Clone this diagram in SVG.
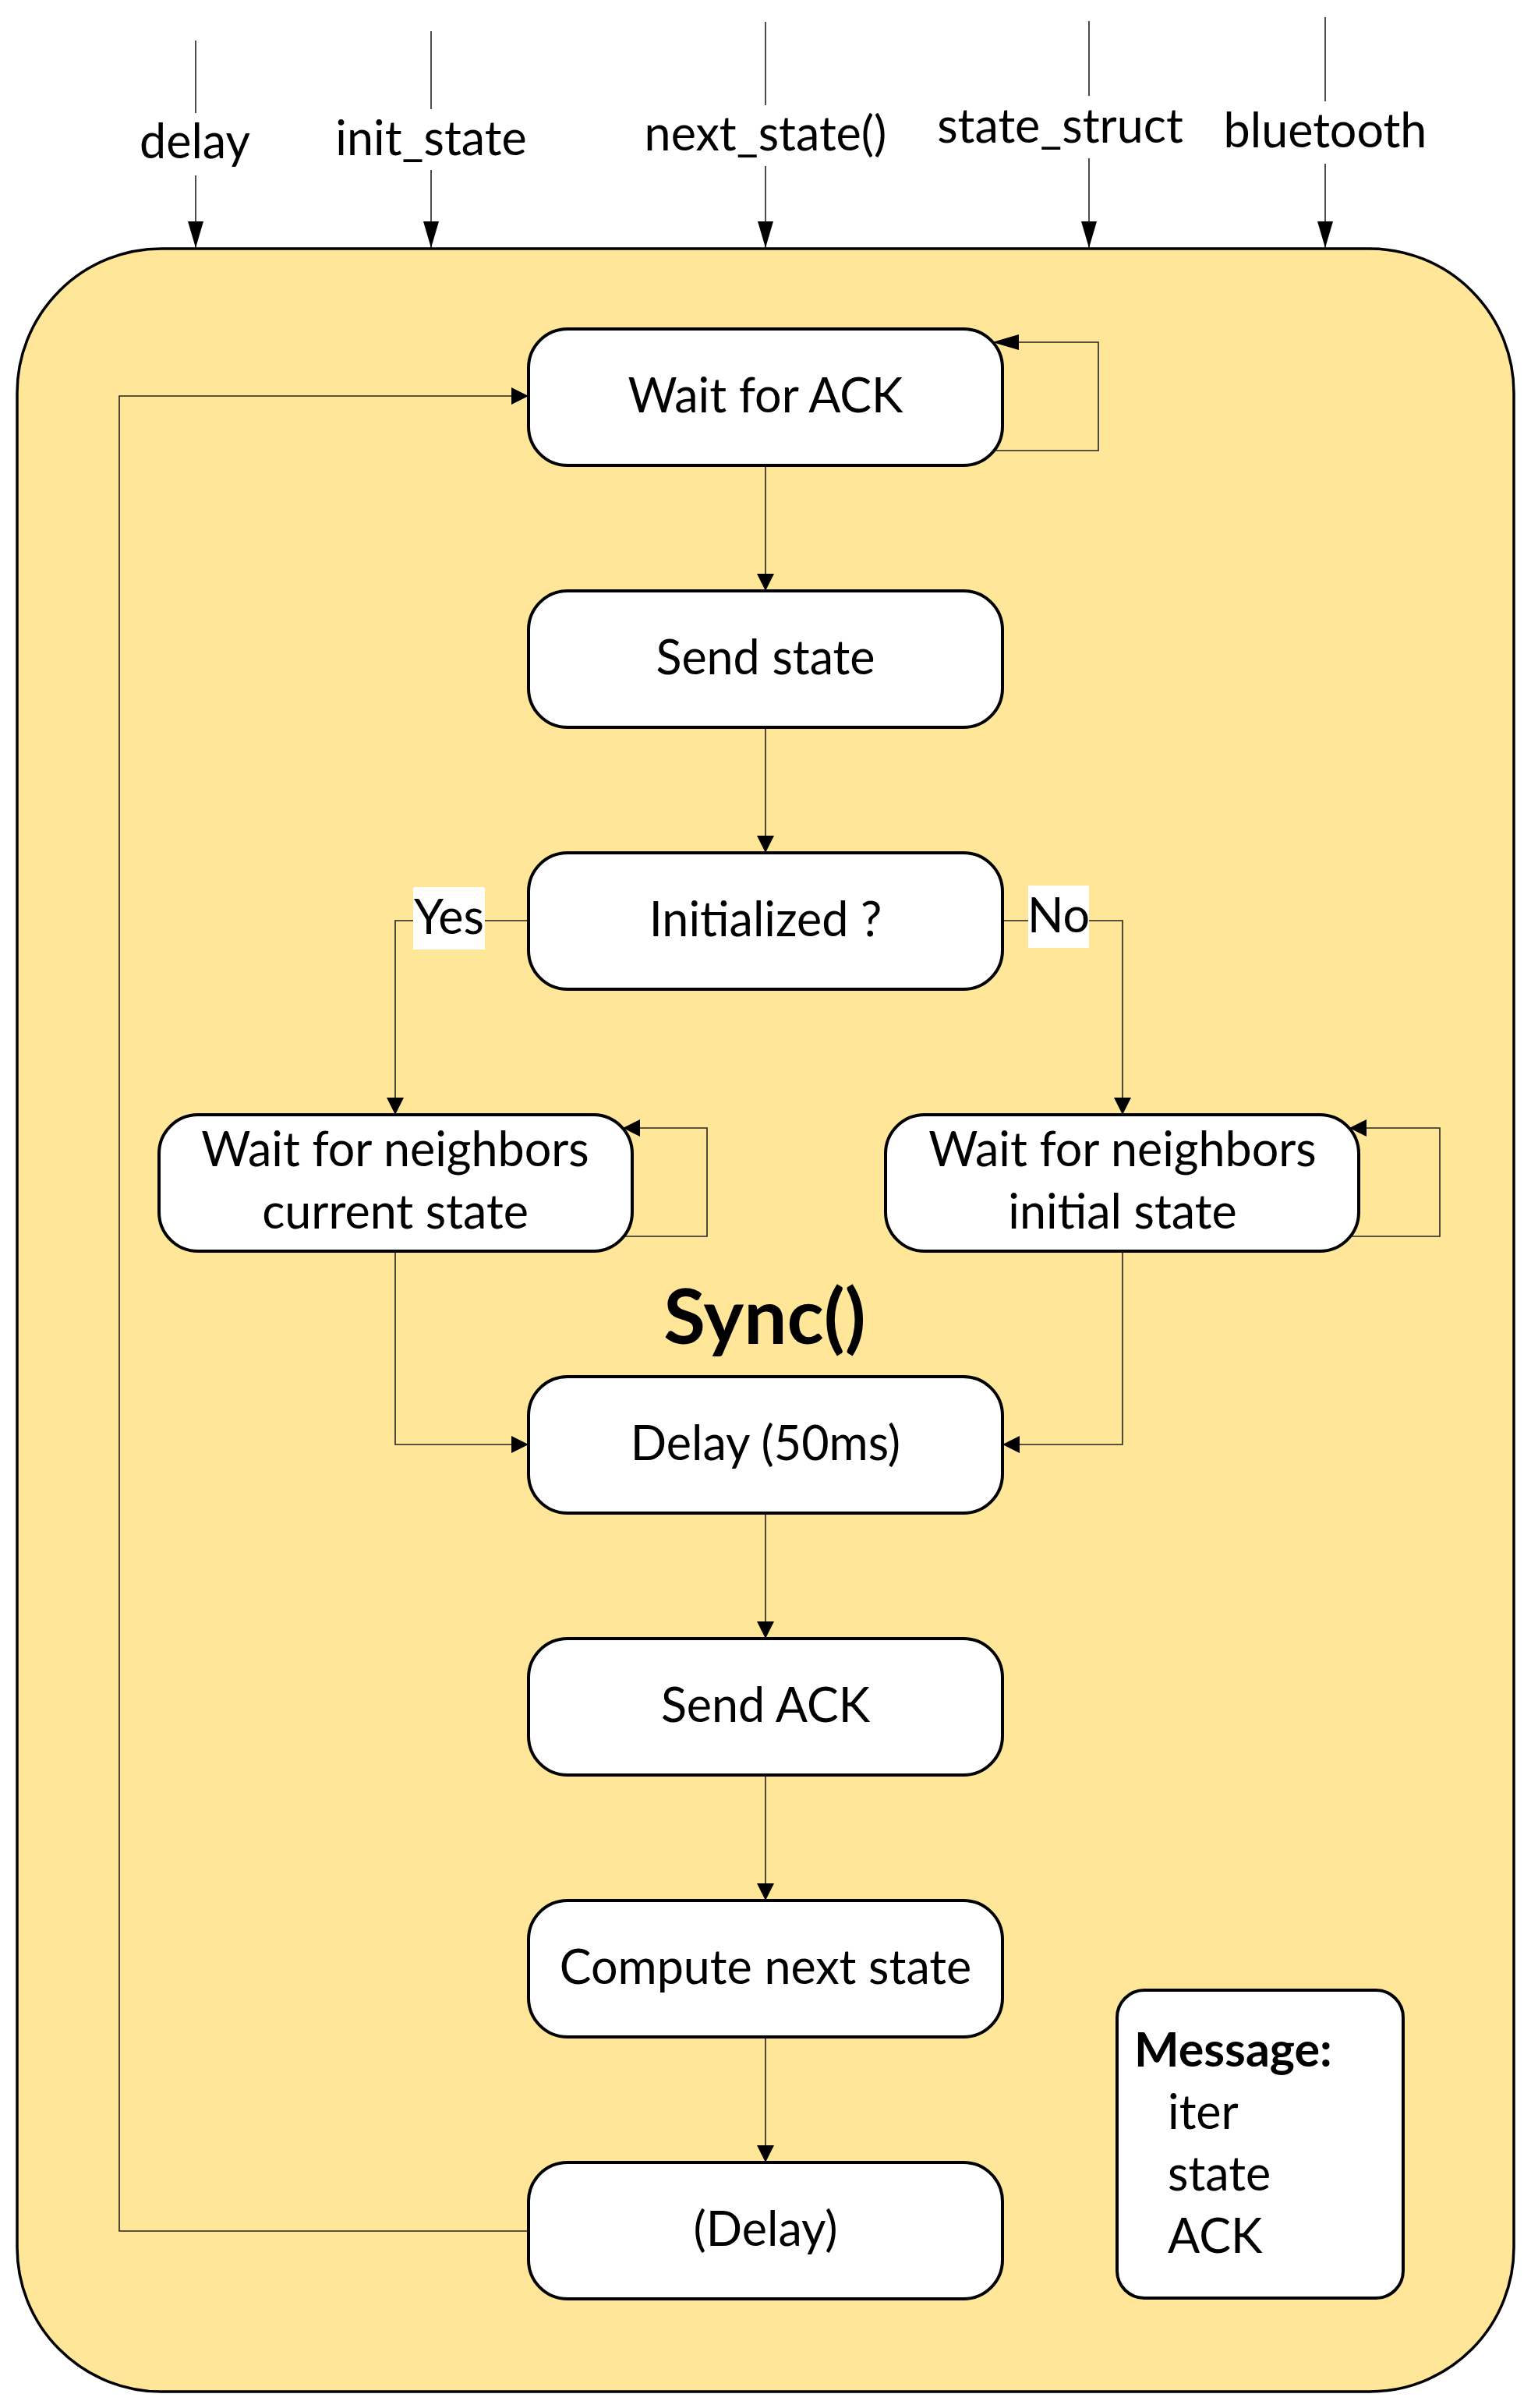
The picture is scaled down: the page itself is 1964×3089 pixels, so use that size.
<svg xmlns="http://www.w3.org/2000/svg" width="1964" height="3089" viewBox="0 0 1964 3089">
<style>
.node{fill:#fff;stroke:#000;stroke-width:4}
.t{font-family:Lato,"Open Sans","Liberation Sans",sans-serif;font-size:61px;fill:#000;text-anchor:middle}
.c{fill:none;stroke:#222;stroke-width:1.6}
.lbl{font-family:Lato,"Open Sans","Liberation Sans",sans-serif;font-size:61px;fill:#000}
</style>
<defs>
<marker id="a" markerUnits="userSpaceOnUse" markerWidth="22" markerHeight="22" refX="22" refY="11" orient="auto"><path d="M0,0 L22,11 L0,22 z" fill="#000"/></marker>
<marker id="at" markerUnits="userSpaceOnUse" markerWidth="34" markerHeight="22" refX="34" refY="10" orient="auto"><path d="M0,0 L34,10 L0,20 z" fill="#000"/></marker>
</defs>
<rect width="1964" height="3089" fill="#fff"/>
<g id="container">
<rect x="22" y="319" width="1920" height="2749" rx="185" ry="185" fill="#FFE699" stroke="#000" stroke-width="3.5"/>
<text x="981" y="1724" class="t" style="font-weight:bold;font-size:98px">Sync()</text>
</g>
<g id="inputs">
<text x="250" y="203" class="t">delay</text>
<text x="553" y="199" class="t">init_state</text>
<text x="982" y="193" class="t">next_state()</text>
<text x="1360" y="183" class="t">state_struct</text>
<text x="1700" y="189" class="t">bluetooth</text>
</g>
<g id="connectors">
<path class="c" d="M251,52 V145 M251,225 V318" marker-end="url(#at)"/>
<path class="c" d="M553,40 V140 M553,218 V318" marker-end="url(#at)"/>
<path class="c" d="M982,28 V135 M982,213 V318" marker-end="url(#at)"/>
<path class="c" d="M1397,27 V123 M1397,203 V318" marker-end="url(#at)"/>
<path class="c" d="M1700,22 V130 M1700,210 V318" marker-end="url(#at)"/>
<path class="c" d="M1275,578 H1409 V439 H1273" marker-end="url(#at)"/>
<path class="c" d="M982,597 V758" marker-end="url(#a)"/>
<path class="c" d="M982,933 V1094" marker-end="url(#a)"/>
<path class="c" d="M678,1181 H507 V1430" marker-end="url(#a)"/>
<path class="c" d="M1286,1181 H1440 V1430" marker-end="url(#a)"/>
<path class="c" d="M800,1586 H907 V1447 H799" marker-end="url(#a)"/>
<path class="c" d="M1732,1586 H1847 V1447 H1731" marker-end="url(#a)"/>
<path class="c" d="M507,1605 V1853 H678" marker-end="url(#a)"/>
<path class="c" d="M1440,1605 V1853 H1286" marker-end="url(#a)"/>
<path class="c" d="M982,1941 V2102" marker-end="url(#a)"/>
<path class="c" d="M982,2277 V2438" marker-end="url(#a)"/>
<path class="c" d="M982,2613 V2774" marker-end="url(#a)"/>
<path class="c" d="M678,2862 H153 V508 H678" marker-end="url(#a)"/>
<rect x="530" y="1138" width="92" height="80" fill="#fff"/>
<text x="576" y="1198" class="t">Yes</text>
<rect x="1319" y="1136" width="78" height="80" fill="#fff"/>
<text x="1358" y="1196" class="t">No</text>
</g>
<g id="n_wait_ack"><rect class="node" x="678" y="422" width="608" height="175" rx="50"/><text x="982" y="529" class="t">Wait for ACK</text></g>
<g id="n_send_state"><rect class="node" x="678" y="758" width="608" height="175" rx="50"/><text x="982" y="865" class="t">Send state</text></g>
<g id="n_init"><rect class="node" x="678" y="1094" width="608" height="175" rx="50"/><text x="982" y="1201" class="t">Initialized ?</text></g>
<g id="n_wait_cur"><rect class="node" x="204" y="1430" width="607" height="175" rx="50"/><text x="507" y="1496" class="t">Wait for neighbors</text><text x="507" y="1576" class="t">current state</text></g>
<g id="n_wait_init"><rect class="node" x="1136" y="1430" width="607" height="175" rx="50"/><text x="1440" y="1496" class="t">Wait for neighbors</text><text x="1440" y="1576" class="t">initial state</text></g>
<g id="n_delay50"><rect class="node" x="678" y="1766" width="608" height="175" rx="50"/><text x="982" y="1873" class="t">Delay (50ms)</text></g>
<g id="n_send_ack"><rect class="node" x="678" y="2102" width="608" height="175" rx="50"/><text x="982" y="2209" class="t">Send ACK</text></g>
<g id="n_compute"><rect class="node" x="678" y="2438" width="608" height="175" rx="50"/><text x="982" y="2545" class="t">Compute next state</text></g>
<g id="n_delay"><rect class="node" x="678" y="2774" width="608" height="175" rx="50"/><text x="982" y="2881" class="t">(Delay)</text></g>
<g id="n_message"><rect class="node" x="1433" y="2553" width="367" height="395" rx="35"/>
<text x="1455" y="2651" class="lbl" style="font-weight:bold">Message:</text>
<text x="1498" y="2731" class="lbl">iter</text>
<text x="1498" y="2810" class="lbl">state</text>
<text x="1498" y="2890" class="lbl">ACK</text>
</g>
</svg>
